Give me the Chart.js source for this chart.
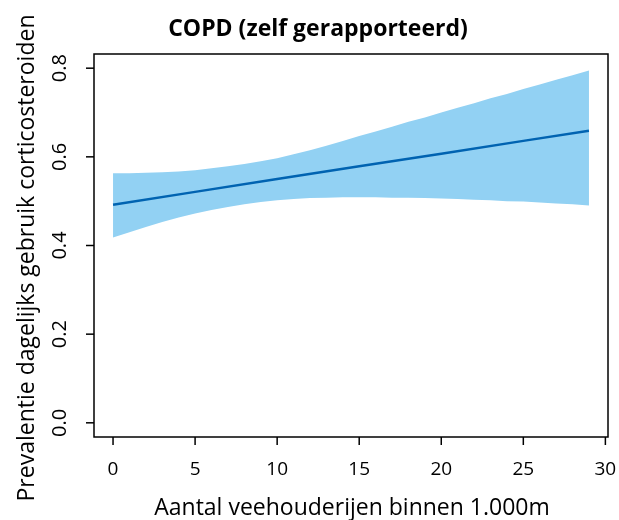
<!DOCTYPE html>
<html>
<head>
<meta charset="utf-8">
<script src="https://cdn.jsdelivr.net/npm/chart.js@4"></script>
<style>
html,body{margin:0;padding:0;background:#fff;}
#wrap{width:619px;height:520px;position:relative;}
</style>
</head>
<body>
<div id="wrap"><canvas id="c" width="619" height="520"></canvas></div>
<script>
const titleText = "COPD (zelf gerapporteerd)";
const xTitle = "Aantal veehouderijen binnen 1.000m";
const yTitle = "Prevalentie dagelijks gebruik corticosteroiden";

const xTicks = [0, 5, 10, 15, 20, 25, 30];
const yTicks = [0.0, 0.2, 0.4, 0.6, 0.8];
const yTickLabels = ["0.0", "0.2", "0.4", "0.6", "0.8"];

const bandX = [0,1,2,3,4,5,6,7,8,9,10,11,12,13,14,15,16,17,18,19,20,21,22,23,24,25,26,27,28,29];
const upper = [0.563,0.563,0.564,0.565,0.567,0.570,0.574,0.579,0.584,0.590,0.597,0.606,0.615,0.625,0.636,0.647,0.657,0.668,0.679,0.689,0.700,0.711,0.721,0.732,0.742,0.753,0.763,0.774,0.784,0.795];
const lower = [0.418,0.430,0.442,0.453,0.463,0.472,0.480,0.487,0.493,0.498,0.502,0.505,0.507,0.508,0.509,0.509,0.509,0.508,0.508,0.507,0.506,0.505,0.503,0.502,0.500,0.499,0.497,0.495,0.493,0.490];

const lineX = [0, 5, 10, 15, 20, 25, 29];
const lineY = [0.492, 0.521, 0.550, 0.579, 0.607, 0.636, 0.659];

const bandColor = "#92D1F3";
const lineColor = "#0063B1";
const FONT = "'Open Sans', 'DejaVu Sans', sans-serif";

const pts = (xs, ys) => xs.map((x, i) => ({x: x, y: ys[i]}));

const decor = {
  id: 'decor',
  afterDatasetsDraw(chart) {
    const ctx = chart.ctx;
    const ca = chart.chartArea;
    const xs = chart.scales.x, ys = chart.scales.y;
    ctx.save();
    ctx.strokeStyle = '#000';
    ctx.lineWidth = 1.5;
    ctx.strokeRect(ca.left, ca.top, ca.right - ca.left, ca.bottom - ca.top);
    ctx.fillStyle = '#000';
    ctx.font = "19px " + FONT;
    ctx.textAlign = 'center';
    ctx.textBaseline = 'middle';
    xTicks.forEach(v => {
      const px = xs.getPixelForValue(v);
      ctx.beginPath();
      ctx.moveTo(px, ca.bottom);
      ctx.lineTo(px, ca.bottom + 8);
      ctx.stroke();
      ctx.fillText(String(v), px, 470);
    });
    ctx.font = "20px " + FONT;
    yTicks.forEach((v, i) => {
      const py = ys.getPixelForValue(v);
      ctx.beginPath();
      ctx.moveTo(ca.left, py);
      ctx.lineTo(ca.left - 8, py);
      ctx.stroke();
      ctx.save();
      ctx.translate(60, py);
      ctx.rotate(-Math.PI / 2);
      ctx.fillText(yTickLabels[i], 0, 0);
      ctx.restore();
    });
    ctx.font = "bold 23px " + FONT;
    ctx.fillText(titleText, 318, 29);
    ctx.font = "23px " + FONT;
    ctx.fillText(xTitle, 352, 508);
    ctx.save();
    ctx.translate(27, 258);
    ctx.rotate(-Math.PI / 2);
    ctx.fillText(yTitle, 0, 0);
    ctx.restore();
    ctx.restore();
  }
};

new Chart(document.getElementById('c'), {
  type: 'line',
  data: {
    datasets: [
      {data: pts(lineX, lineY), borderWidth: 2.5, pointRadius: 0, fill: false, borderColor: lineColor, tension: 0, order: 0},
      {data: pts(bandX, upper), borderWidth: 0, pointRadius: 0, fill: '+1', backgroundColor: bandColor, borderColor: 'rgba(0,0,0,0)', tension: 0, order: 1},
      {data: pts(bandX, lower), borderWidth: 0, pointRadius: 0, fill: false, borderColor: 'rgba(0,0,0,0)', tension: 0, order: 2}
    ]
  },
  options: {
    responsive: false,
    animation: false,
    layout: {padding: {left: 94, right: 11, top: 54, bottom: 83}},
    plugins: {legend: {display: false}, tooltip: {enabled: false}, title: {display: false}},
    scales: {
      x: {type: 'linear', min: -1.16, max: 30.16, display: false},
      y: {type: 'linear', min: -0.032, max: 0.832, display: false}
    }
  },
  plugins: [decor]
});
</script>
</body>
</html>
